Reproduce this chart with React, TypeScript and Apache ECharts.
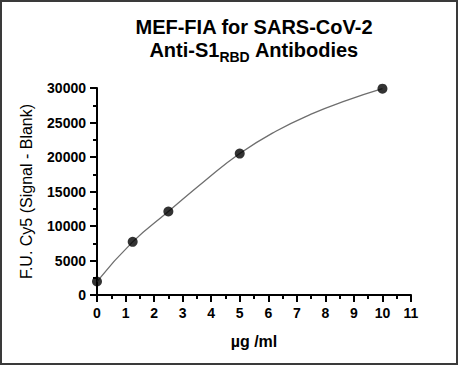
import React, { useEffect, useRef } from "react";
import * as echarts from "echarts";

// measured points
const concentrations = [0, 1.25, 2.5, 5, 10];
const signals = [1950, 7700, 12100, 20500, 29900];
// fitted curve
const fitX = [0, 1.25, 2.5, 3.75, 5, 6.25, 7.5, 8.75, 10];
const fitY = [1950, 7700, 12100, 16450, 20500, 23700, 26200, 28200, 29900];

const xTicks = { min: 0, max: 11, interval: 1 };
const yTicks = { min: 0, max: 30000, interval: 5000 };

const titleLine1 = "MEF-FIA for SARS-CoV-2";
const titleLine2a = "Anti-S1";
const titleSub = "RBD";
const titleLine2b = " Antibodies";
const xName = "µg /ml";
const yName = "F.U. Cy5 (Signal - Blank)";

const FONT = '"Liberation Sans", Arial, sans-serif';

export default function App() {
  const ref = useRef<HTMLDivElement>(null);
  useEffect(() => {
    if (!ref.current) return;
    const chart = echarts.init(ref.current, undefined, { renderer: "svg" });
    const pts = concentrations.map((c, i) => [c, signals[i]]);
    const curve = fitX.map((c, i) => [c, fitY[i]]);
    const axisLine = { show: true, onZero: false, lineStyle: { color: "#000", width: 2 } };
    const tick = { show: true, length: 7, lineStyle: { color: "#000", width: 2 } };
    const minor = { show: true, splitNumber: 2, length: 4, lineStyle: { color: "#000", width: 2 } };
    const label = {
      margin: 11,
      fontFamily: FONT,
      fontWeight: "bold",
      fontSize: 14,
      color: "#000",
      formatter: (v: number) => String(v),
    };
    chart.setOption({
      animation: false,
      backgroundColor: "#fff",
      textStyle: { fontFamily: FONT },
      grid: { left: 97, right: 50, top: 88, bottom: 72, containLabel: false },
      xAxis: {
        type: "value",
        min: xTicks.min,
        max: xTicks.max,
        interval: xTicks.interval,
        name: xName,
        nameLocation: "middle",
        nameGap: 38,
        nameTextStyle: { fontFamily: FONT, fontWeight: "bold", fontSize: 16, color: "#000" },
        axisLine,
        axisTick: tick,
        minorTick: minor,
        splitLine: { show: false },
        axisLabel: label,
      },
      yAxis: {
        type: "value",
        min: yTicks.min,
        max: yTicks.max,
        interval: yTicks.interval,
        name: yName,
        nameLocation: "middle",
        nameGap: 63,
        nameTextStyle: { fontFamily: FONT, fontSize: 16, color: "#000" },
        axisLine,
        axisTick: tick,
        minorTick: minor,
        splitLine: { show: false },
        axisLabel: label,
      },
      graphic: [
        {
          type: "rect",
          shape: { x: 1, y: 1, width: 456, height: 363 },
          style: { fill: "none", stroke: "#3a3a3a", lineWidth: 2 },
          silent: true,
        },
        {
          type: "text",
          x: 254,
          y: 17,
          style: {
            text: titleLine1,
            fontFamily: FONT,
            fontWeight: "bold",
            fontSize: 20,
            fill: "#000",
            align: "center",
            verticalAlign: "top",
          },
        },
        {
          type: "text",
          x: 254,
          y: 35,
          style: {
            text: `{a|${titleLine2a}}{b|${titleSub}}{a|${titleLine2b}}`,
            fontFamily: FONT,
            fill: "#000",
            align: "center",
            verticalAlign: "top",
            rich: {
              a: { fontFamily: FONT, fontWeight: "bold", fontSize: 20, fill: "#000" },
              b: { fontFamily: FONT, fontWeight: "bold", fontSize: 14, fill: "#000", padding: [15, 0, 0, 0] },
            },
          },
        },
      ],
      series: [
        {
          type: "line",
          data: curve,
          smooth: 0.5,
          showSymbol: false,
          symbol: "none",
          clip: false,
          lineStyle: { color: "#6e6e6e", width: 1.3 },
          z: 2,
        },
        {
          type: "scatter",
          data: pts,
          symbol: "circle",
          symbolSize: 10,
          clip: false,
          itemStyle: { color: "#000" },
          z: 3,
        },
      ],
    });
    return () => chart.dispose();
  }, []);
  return (
    <div
      ref={ref}
      style={{ position: "fixed", left: 0, top: 0, width: 461, height: 367 }}
    />
  );
}
